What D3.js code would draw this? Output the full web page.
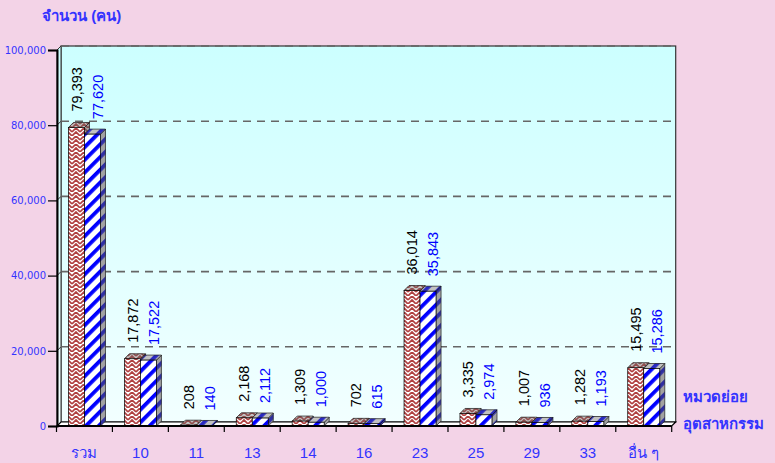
<!DOCTYPE html>
<html>
<head>
<meta charset="utf-8">
<script src="https://cdn.jsdelivr.net/npm/d3@7"></script>
<style>
  body { margin: 0; background: #f3d3e7; }
  svg { display: block; }
  text { font-family: Tahoma, "Liberation Sans", Arial, sans-serif; }
</style>
</head>
<body>
<svg id="chart" width="775" height="463"></svg>
<script>
const categories = ["รวม", "10", "11", "13", "14", "16", "23", "25", "29", "33", "อื่น ๆ"];
const series1 = [79393, 17872, 208, 2168, 1309, 702, 36014, 3335, 1007, 1282, 15495];
const series2 = [77620, 17522, 140, 2112, 1000, 615, 35843, 2974, 936, 1193, 15286];
const yTicks = [0, 20000, 40000, 60000, 80000, 100000];
const yTitle = "จำนวน (คน)";
const xTitle = ["หมวดย่อย", "อุตสาหกรรม"];

const svg = d3.select("#chart");
const depth = 4;     // wall depth
const barDepth = 5;  // bar depth
const barW = 16;

const x = d3.scaleBand().domain(categories).range([56.5, 671.7]);
const y = d3.scaleLinear().domain([0, 100000]).range([426, 50]);
const pl = 57, pr = 671.7, pb = y(0), pt = y(100000);

const defs = svg.append("defs");

const grad = defs.append("linearGradient")
  .attr("id", "wall").attr("x1", 0).attr("y1", 0).attr("x2", 0).attr("y2", 1);
grad.append("stop").attr("offset", 0).attr("stop-color", "#ccffff");
grad.append("stop").attr("offset", 1).attr("stop-color", "#f2ffff");

// red weave pattern
const pRed = defs.append("pattern")
  .attr("id", "pRed").attr("patternUnits", "userSpaceOnUse")
  .attr("width", 8).attr("height", 8);
pRed.append("rect").attr("width", 8).attr("height", 8).attr("fill", "#fff");
pRed.append("path")
  .attr("d", "M0,4 L4,0 L8,4 M0,8 L4,4 L8,8 M0,4 L-1,3 M8,4 L9,3")
  .attr("fill", "none").attr("stroke", "#b04040").attr("stroke-width", 1.7);

// blue diagonal stripes
const pBlue = defs.append("pattern")
  .attr("id", "pBlue").attr("patternUnits", "userSpaceOnUse")
  .attr("width", 9).attr("height", 9)
  .attr("patternTransform", "rotate(45)");
pBlue.append("rect").attr("width", 9).attr("height", 9).attr("fill", "#fff");
pBlue.append("rect").attr("width", 3.8).attr("height", 9).attr("fill", "#0000ff");

// back wall + left wall
svg.append("rect")
  .attr("x", pl + depth).attr("y", pt - depth)
  .attr("width", pr - pl).attr("height", pb - pt)
  .attr("fill", "url(#wall)")
  .attr("stroke", "#333").attr("stroke-width", 1.2);

svg.append("polygon")
  .attr("points", [[pl, pt], [pl + depth, pt - depth], [pl + depth, pb - depth], [pl, pb]].join(" "))
  .attr("fill", "url(#wall)").attr("stroke", "#333").attr("stroke-width", 1);

// gridlines on back wall
const grid = yTicks.filter(d => d > 0);
svg.append("g").selectAll("line").data(grid).join("line")
  .attr("x1", pl + depth).attr("x2", pr + depth)
  .attr("y1", d => y(d) - depth).attr("y2", d => y(d) - depth)
  .attr("stroke", "#666").attr("stroke-width", 1.6)
  .attr("stroke-dasharray", "8,6");
svg.append("g").selectAll("line").data(grid).join("line")
  .attr("x1", pl).attr("x2", pl + depth)
  .attr("y1", d => y(d)).attr("y2", d => y(d) - depth)
  .attr("stroke", "#333").attr("stroke-width", 1);

// floor
svg.append("polygon")
  .attr("points", [[pl, pb], [pr, pb], [pr + depth, pb - depth], [pl + depth, pb - depth]].join(" "))
  .attr("fill", "#fff").attr("stroke", "#000").attr("stroke-width", 1.2);

// bars
const rows = categories.map((c, i) => ({ c, v1: series1[i], v2: series2[i] }));

function drawBar(g, x0, v, fill) {
  const yt = y(v);
  const x1 = x0 + barW;
  const side = [[x1, yt], [x1 + barDepth, yt - barDepth], [x1 + barDepth, pb - barDepth], [x1, pb]].join(" ");
  const topFace = [[x0, yt], [x0 + barDepth, yt - barDepth], [x1 + barDepth, yt - barDepth], [x1, yt]].join(" ");
  g.append("polygon").attr("points", side)
    .attr("fill", fill).attr("stroke", "#000").attr("stroke-width", 0.7);
  g.append("polygon").attr("points", side)
    .attr("fill", "#555").attr("fill-opacity", 0.55);
  g.append("polygon").attr("points", topFace)
    .attr("fill", fill).attr("stroke", "#000").attr("stroke-width", 0.7);
  g.append("polygon").attr("points", topFace)
    .attr("fill", "#666").attr("fill-opacity", 0.4);
  g.append("rect") // front
    .attr("x", x0).attr("y", yt).attr("width", barW).attr("height", pb - yt)
    .attr("fill", fill).attr("stroke", "#000").attr("stroke-width", 0.7);
}

const bars = svg.append("g");
rows.forEach(d => {
  const cx = x(d.c) + x.bandwidth() / 2;
  const g = bars.append("g");
  drawBar(g, cx - barW, d.v1, "url(#pRed)");
  drawBar(g, cx, d.v2, "url(#pBlue)");
});

// front floor edge
svg.append("line")
  .attr("x1", pl).attr("x2", pr).attr("y1", pb).attr("y2", pb)
  .attr("stroke", "#000").attr("stroke-width", 2);

// value labels
const fmt = d3.format(",");
const labels = svg.append("g").style("font-size", "14.5px");
labels.selectAll("text.s1").data(rows).join("text")
  .attr("class", "s1")
  .attr("transform", d => `translate(${x(d.c) + x.bandwidth() / 2 - barW / 2},${y(d.v1) - barDepth - 11}) rotate(-90)`)
  .attr("dy", "0.36em").attr("fill", "#000")
  .text(d => fmt(d.v1));
labels.selectAll("text.s2").data(rows).join("text")
  .attr("class", "s2")
  .attr("transform", d => `translate(${x(d.c) + x.bandwidth() / 2 + barW / 2 + 5},${y(d.v2) - barDepth - 10}) rotate(-90)`)
  .attr("dy", "0.36em").attr("fill", "#0000ff")
  .text(d => fmt(d.v2));

// y axis
const yAxis = svg.append("g")
  .attr("transform", `translate(${pl},0)`)
  .call(d3.axisLeft(y).tickValues(yTicks).tickSize(9).tickPadding(2).tickFormat(fmt));
yAxis.select(".domain").attr("stroke", "#000").attr("stroke-width", 2);
yAxis.selectAll(".tick line").attr("stroke", "#000").attr("stroke-width", 1.2);
yAxis.selectAll(".tick text")
  .attr("fill", "#3333ff")
  .style("font-family", "'DejaVu Sans', Verdana, sans-serif")
  .style("font-size", "10px");

// x ticks at category boundaries
const xEdges = d3.range(categories.length + 1).map(i => x.range()[0] + i * x.step());
svg.append("g").selectAll("line").data(xEdges).join("line")
  .attr("x1", d => d).attr("x2", d => d)
  .attr("y1", pb).attr("y2", pb + 6)
  .attr("stroke", "#000").attr("stroke-width", 1.2);

svg.append("g").selectAll("text").data(categories).join("text")
  .attr("x", d => x(d) + x.bandwidth() / 2).attr("y", 458)
  .attr("text-anchor", "middle").attr("fill", "#3333ff")
  .style("font-size", "15px")
  .text(d => d);

// titles
svg.append("text")
  .attr("x", 42).attr("y", 21)
  .attr("fill", "#3333ff").style("font-size", "15px").style("font-weight", "bold")
  .text(yTitle);

svg.append("g").selectAll("text").data(xTitle).join("text")
  .attr("x", 683).attr("y", (d, i) => 402 + i * 27)
  .attr("fill", "#3333ff").style("font-size", "15px").style("font-weight", "bold")
  .text(d => d);
</script>
</body>
</html>
